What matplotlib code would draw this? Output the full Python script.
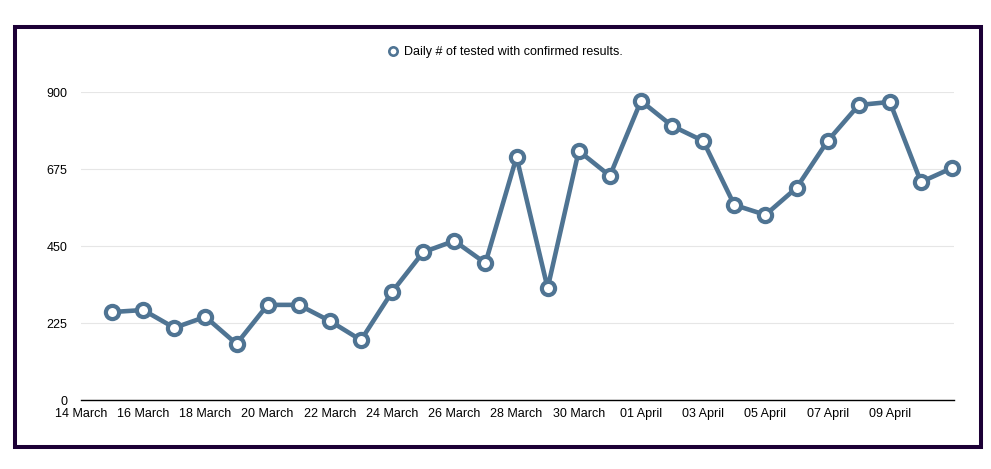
import numpy as np
import pandas as pd
import matplotlib
matplotlib.use("Agg")
from matplotlib import pyplot as plt
import matplotlib.dates as mdates
from matplotlib.lines import Line2D
from matplotlib.patches import Rectangle

plt.rcParams['font.family'] = ['Liberation Sans', 'DejaVu Sans']

# data
dates = pd.date_range("2020-03-15", "2020-04-11", freq="D")
tested = [257, 263, 211, 243, 164, 278, 278, 231, 175, 316,
          432, 465, 400, 710, 327, 728, 655, 874, 801, 757,
          570, 541, 620, 757, 862, 871, 637, 678]
y_ticks = [0, 225, 450, 675, 900]
x_ticks = pd.date_range("2020-03-14", "2020-04-09", freq="2D")
series_label = "Daily # of tested with confirmed results."

line_color = "#4f7493"
frame_color = "#1c0036"

fig = plt.figure(figsize=(9.91, 4.69), dpi=100)
fig.patch.set_facecolor("white")

# dark frame round the chart
fig.patches.append(Rectangle((0.0151, 0.0469), 0.9748, 0.8955, transform=fig.transFigure,
                             fill=False, edgecolor=frame_color, linewidth=2.9))

ax = fig.add_axes([0.0817, 0.1471, 0.881, 0.6567])
ax.plot(dates, tested, color=line_color, lw=3.3, marker="o", ms=9.5,
        mfc="white", mec=line_color, mew=3.0, clip_on=False, zorder=3)

ax.set_ylim(0, 900)
ax.set_xlim(pd.Timestamp("2020-03-14"), pd.Timestamp("2020-04-11 01:30"))
ax.set_yticks(y_ticks)
ax.set_xticks(x_ticks)
ax.xaxis.set_major_formatter(mdates.DateFormatter("%d %B"))
ax.tick_params(axis="y", length=0, pad=10, labelsize=9)
ax.tick_params(axis="x", length=0, pad=5.5, labelsize=9)
ax.grid(axis="y", color="#e6e6e6", lw=0.8)
ax.set_axisbelow(True)
for side in ["left", "right", "top"]:
    ax.spines[side].set_visible(False)
ax.spines["bottom"].set_color("black")
ax.spines["bottom"].set_linewidth(1.0)

handle = Line2D([], [], color=line_color, lw=0, marker="o", ms=6,
                mfc="white", mec=line_color, mew=1.9)
fig.legend([handle], [series_label], loc="center", bbox_to_anchor=(0.509, 0.889),
           frameon=False, fontsize=9, handletextpad=0.25, handlelength=1.2)

fig.savefig("out.png", dpi=100)
